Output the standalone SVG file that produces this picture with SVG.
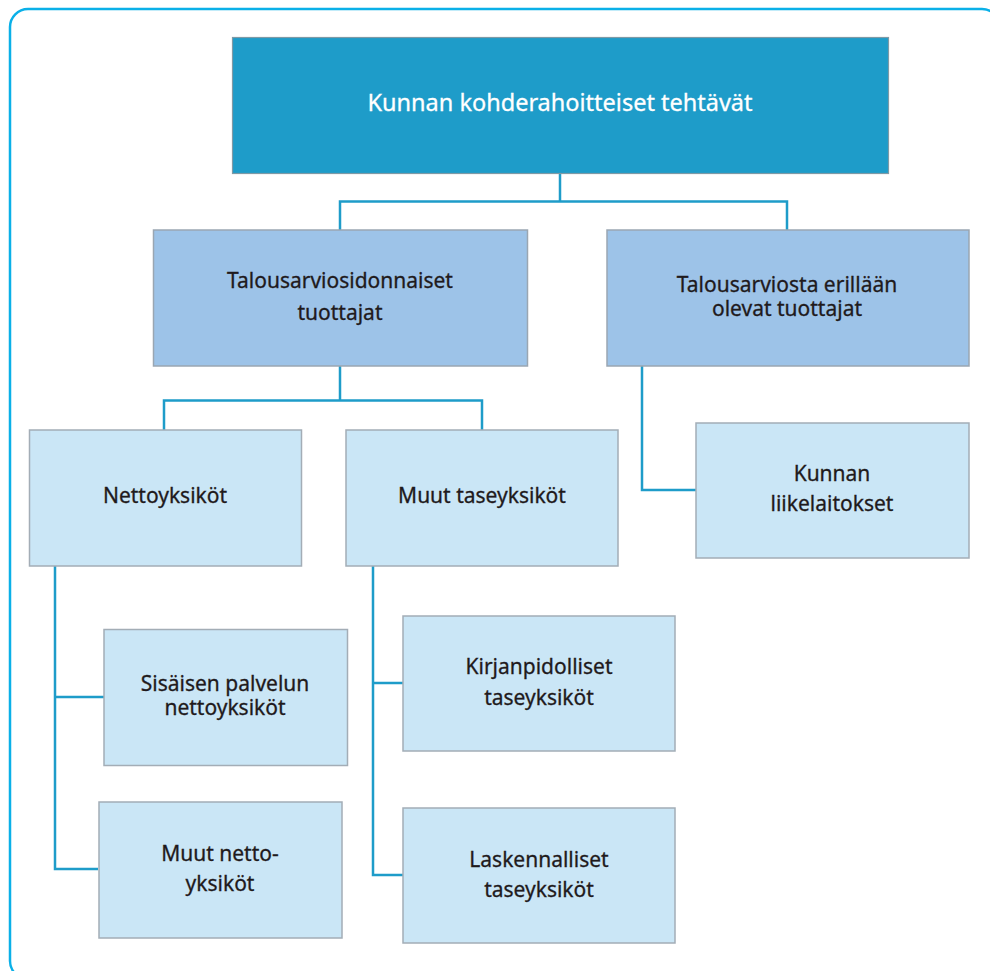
<svg xmlns="http://www.w3.org/2000/svg" width="990" height="971" viewBox="0 0 990 971">
<style>
.frame{fill:#fff;stroke:#0ab0e8;stroke-width:2.5}
.top{fill:#1e9cc9;stroke:#7f9aa6;stroke-width:1.2}
.mid{fill:#9dc3e8;stroke:#9aa6b2;stroke-width:1.5}
.low{fill:#cae6f6;stroke:#a3adb6;stroke-width:1.5}
.conn{fill:none;stroke:#1e9cc9;stroke-width:2.5}
text{font-family:"Noto Sans","Open Sans",sans-serif;font-size:21px;fill:#1f1a1c;stroke:#1f1a1c;stroke-width:0.3;text-anchor:middle}
.wt{fill:#fff;stroke:#fff;font-size:23.5px}
</style>
<rect class="frame" x="10" y="9" width="990" height="970" rx="18"/>
<g id="connectors">
<path class="conn" d="M560 173V201.5H340V230M560 201.5H787V230"/>
<path class="conn" d="M340 366V400.5H164V430M340 400.5H482V430"/>
<path class="conn" d="M642 366V490H696"/>
<path class="conn" d="M55 566V869H98M55 697H104"/>
<path class="conn" d="M373 566V875H403M373 683H403"/>
</g>
<g id="n-top"><rect class="top" x="232.5" y="37.5" width="656" height="136"/><text class="wt" x="560" y="111">Kunnan kohderahoitteiset tehtävät</text></g>
<g id="n-talousarviosidonnaiset"><rect class="mid" x="153.5" y="230" width="374" height="136"/><text x="340" y="288">Talousarviosidonnaiset</text><text x="340" y="320">tuottajat</text></g>
<g id="n-erillaan"><rect class="mid" x="607" y="230" width="362" height="136"/><text x="787" y="292">Talousarviosta erillään</text><text x="787" y="316">olevat tuottajat</text></g>
<g id="n-nettoyksikot"><rect class="low" x="29.5" y="430" width="272" height="136"/><text x="165" y="503">Nettoyksiköt</text></g>
<g id="n-muut-tase"><rect class="low" x="346" y="430" width="272" height="136"/><text x="482" y="503">Muut taseyksiköt</text></g>
<g id="n-liikelaitokset"><rect class="low" x="696" y="423" width="273" height="135"/><text x="832" y="481">Kunnan</text><text x="832" y="511">liikelaitokset</text></g>
<g id="n-sisainen"><rect class="low" x="104" y="629.5" width="243.5" height="136"/><text x="225" y="691">Sisäisen palvelun</text><text x="225" y="715">nettoyksiköt</text></g>
<g id="n-muut-netto"><rect class="low" x="99" y="802" width="243" height="136"/><text x="220" y="861">Muut netto-</text><text x="220" y="891">yksiköt</text></g>
<g id="n-kirjanpidolliset"><rect class="low" x="403" y="616" width="272" height="135"/><text x="539" y="674">Kirjanpidolliset</text><text x="539" y="705">taseyksiköt</text></g>
<g id="n-laskennalliset"><rect class="low" x="403" y="808" width="272" height="135"/><text x="539" y="867">Laskennalliset</text><text x="539" y="897">taseyksiköt</text></g>
</svg>
